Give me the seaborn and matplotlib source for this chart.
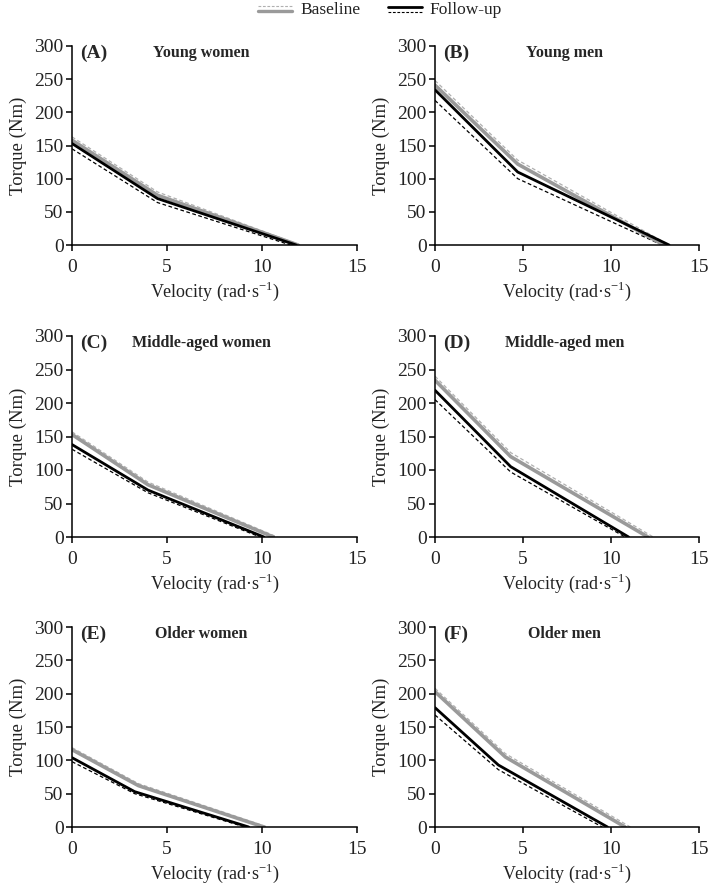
import matplotlib
matplotlib.use("Agg")
import matplotlib.pyplot as plt
import seaborn as sns
import pandas as pd

# ---- data ----
panel_letters = ["(A)", "(B)", "(C)", "(D)", "(E)", "(F)"]
panel_titles = ["Young women", "Young men", "Middle-aged women",
                "Middle-aged men", "Older women", "Older men"]

# velocity breakpoints (rad/s) and torque (Nm) for each curve
base_v = [[0, 4.5, 11.9], [0, 4.7, 13.0], [0, 4.0, 10.6],
          [0, 4.3, 12.1], [0, 3.5, 10.1], [0, 4.0, 10.8]]
base_t = [[158, 75, 0], [241, 122, 0], [153, 78, 0],
          [234, 120, 0], [116, 62, 0], [203, 105, 0]]
base_up_v = [[0, 4.5, 12.0], [0, 4.7, 13.3], [0, 4.0, 10.8],
             [0, 4.3, 12.4], [0, 3.5, 10.3], [0, 4.0, 11.1]]
base_up_t = [[163, 80, 0], [248, 128, 0], [157, 82, 0],
             [240, 126, 0], [119, 65, 0], [208, 110, 0]]
follow_v = [[0, 4.5, 11.8], [0, 4.7, 13.3], [0, 4.0, 10.1],
            [0, 4.3, 11.0], [0, 3.3, 9.3], [0, 3.6, 9.8]]
follow_t = [[153, 70, 0], [234, 110, 0], [138, 70, 0],
            [219, 105, 0], [104, 53, 0], [179, 93, 0]]
follow_lo_v = [[0, 4.5, 11.5], [0, 4.7, 12.9], [0, 4.0, 9.9],
               [0, 4.3, 10.8], [0, 3.3, 9.1], [0, 3.6, 9.5]]
follow_lo_t = [[145, 64, 0], [218, 100, 0], [131, 66, 0],
               [205, 97, 0], [98, 50, 0], [168, 86, 0]]

x_ticks = [0, 5, 10, 15]
y_ticks = [0, 50, 100, 150, 200, 250, 300]

sns.set_style("ticks")
plt.rcParams["font.family"] = ["Liberation Serif", "DejaVu Serif"]
plt.rcParams["mathtext.fontset"] = "custom"
plt.rcParams["mathtext.rm"] = "Liberation Serif"

W, H = 709, 884
fig = plt.figure(figsize=(W / 100, H / 100), dpi=100)

# axes geometry in pixels: (left, top, width, height)
boxes = [(72, 46, 285, 199), (435, 46, 264, 199),
         (72, 336, 285, 201), (435, 336, 264, 201),
         (72, 627, 285, 200), (435, 627, 264, 200)]

GRAY = "#9a9a9a"
LGRAY = "#b0b0b0"
TXT = "#222222"

for i, (l, t, w, h) in enumerate(boxes):
    ax = fig.add_axes([l / W, (H - t - h) / H, w / W, h / H])
    curves = [
        (base_up_v[i], base_up_t[i], LGRAY, 0.9, (0, (3, 2))),
        (follow_lo_v[i], follow_lo_t[i], "black", 0.9, (0, (3, 2))),
        (base_v[i], base_t[i], GRAY, 2.6, "-"),
        (follow_v[i], follow_t[i], "black", 2.0, "-"),
    ]
    for v, tq, c, lw, ls in curves:
        df = pd.DataFrame({"v": v, "t": tq})
        sns.lineplot(data=df, x="v", y="t", ax=ax, color=c, lw=lw,
                     linestyle=ls, sort=False, estimator=None)
    ax.set_xlim(0, 15)
    ax.set_ylim(0, 300)
    ax.set_xticks(x_ticks)
    ax.set_yticks(y_ticks)
    ax.tick_params(labelsize=14, length=4, width=1.1, color="black",
                   labelcolor=TXT)
    ax.tick_params(axis="x", pad=6)
    ax.tick_params(axis="y", pad=2)
    for s in ["top", "right"]:
        ax.spines[s].set_visible(False)
    for s in ["left", "bottom"]:
        ax.spines[s].set_linewidth(1.1)
        ax.spines[s].set_color("black")
    ax.set_xlabel("Velocity (rad·s$^{\\mathregular{-1}}$)", fontsize=13,
                  color=TXT, labelpad=3)
    ax.set_ylabel("Torque (Nm)", fontsize=13.5, color=TXT, labelpad=5)
    ax.text(0.03, 0.965, panel_letters[i], transform=ax.transAxes,
            fontsize=14, fontweight="bold", ha="left", va="center")
    tx = 0.455 if i % 2 == 0 else 0.49
    ax.text(tx, 0.965, panel_titles[i], transform=ax.transAxes,
            fontsize=11.5, fontweight="bold", ha="center", va="center")

# legend
lax = fig.add_axes([0, (H - 22) / H, 1, 22 / H])
lax.set_xlim(0, W)
lax.set_ylim(22, 0)
lax.axis("off")
lax.plot([258, 292], [6, 6], color=LGRAY, lw=0.8, linestyle=(0, (2.5, 1.5)))
lax.plot([258, 292], [10.5, 10.5], color=GRAY, lw=2.4)
lax.text(300, 9.5, "Baseline", fontsize=12.5, va="center", ha="left", color=TXT)
lax.plot([388, 422], [7, 7], color="black", lw=2.0)
lax.plot([388, 422], [11.5, 11.5], color="black", lw=0.8, linestyle=(0, (2.5, 1.5)))
lax.text(429, 9.5, "Follow-up", fontsize=12.5, va="center", ha="left", color=TXT)

fig.savefig("out.png", dpi=100)
